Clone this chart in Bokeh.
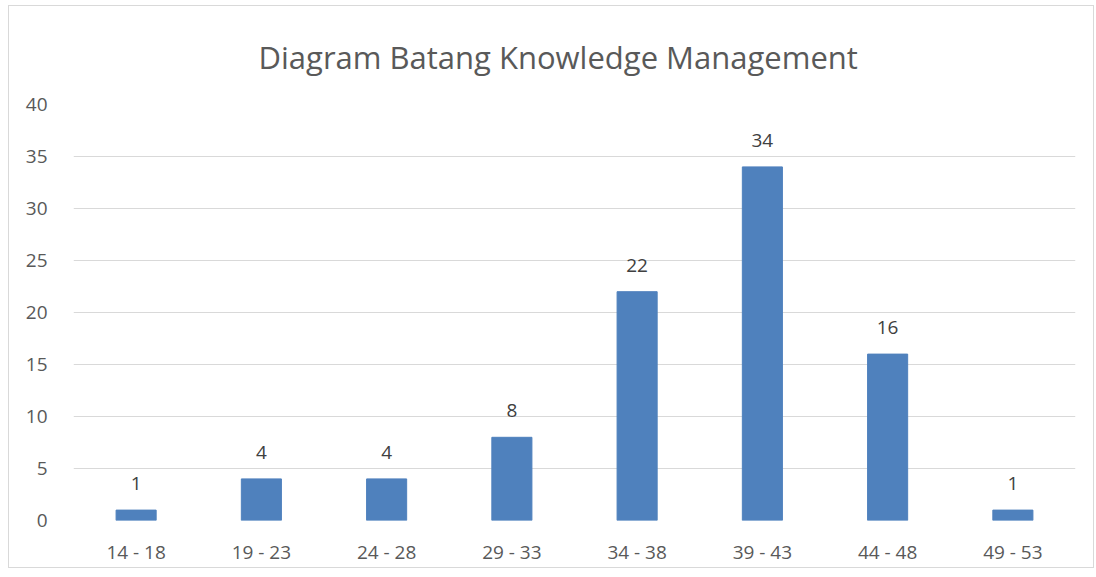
from bokeh.plotting import figure
from bokeh.models import ColumnDataSource, LabelSet, FixedTicker
from bokeh.core.properties import value
from bokeh.embed import file_html
from bokeh.resources import INLINE

categories = ["14 - 18", "19 - 23", "24 - 28", "29 - 33", "34 - 38", "39 - 43", "44 - 48", "49 - 53"]
values = [1, 4, 4, 8, 22, 34, 16, 1]
y_ticks = [0, 5, 10, 15, 20, 25, 30, 35, 40]
title_text = "Diagram Batang Knowledge Management"

FONT = "Open Sans"
TXT = "#595959"

src = ColumnDataSource(dict(cat=categories, val=values, lbl=[str(v) for v in values]))

p = figure(x_range=categories, y_range=(0, 40), width=1086, height=563,
           output_backend="svg", toolbar_location=None, title=title_text,
           min_border_left=64, min_border_right=20, min_border_top=98, min_border_bottom=49)

p.vbar(x="cat", top="val", width=0.32, source=src, color="#4F81BD", line_color="#4F81BD")

labels = LabelSet(x="cat", y="val", text="lbl", source=src, text_align="center",
                  text_baseline="bottom", y_offset=20, text_font_size="19px",
                  text_color="#404040", text_font=value(FONT))
p.add_layout(labels)

p.title.text_font = FONT
p.title.text_font_size = "31px"
p.title.text_font_style = "normal"
p.title.text_color = TXT
p.title.align = "left"
p.title.offset = 185
p.title.standoff = 54

p.outline_line_color = None
p.xgrid.grid_line_color = None
p.ygrid.grid_line_color = "#d9d9d9"
p.ygrid.grid_line_width = 1
p.yaxis.ticker = FixedTicker(ticks=y_ticks)

for ax in (p.xaxis, p.yaxis):
    ax.axis_line_color = None
    ax.major_tick_line_color = None
    ax.minor_tick_line_color = None
    ax.major_label_text_font = FONT
    ax.major_label_text_font_size = "19px"
    ax.major_label_text_color = TXT
p.xaxis.major_label_standoff = 12
p.yaxis.major_label_standoff = 20
p.x_range.range_padding = 0

p.styles = {"border": "1px solid #d9d9d9", "margin-left": "8px", "margin-top": "5px"}

open("out.html", "w").write(file_html(p, INLINE))
